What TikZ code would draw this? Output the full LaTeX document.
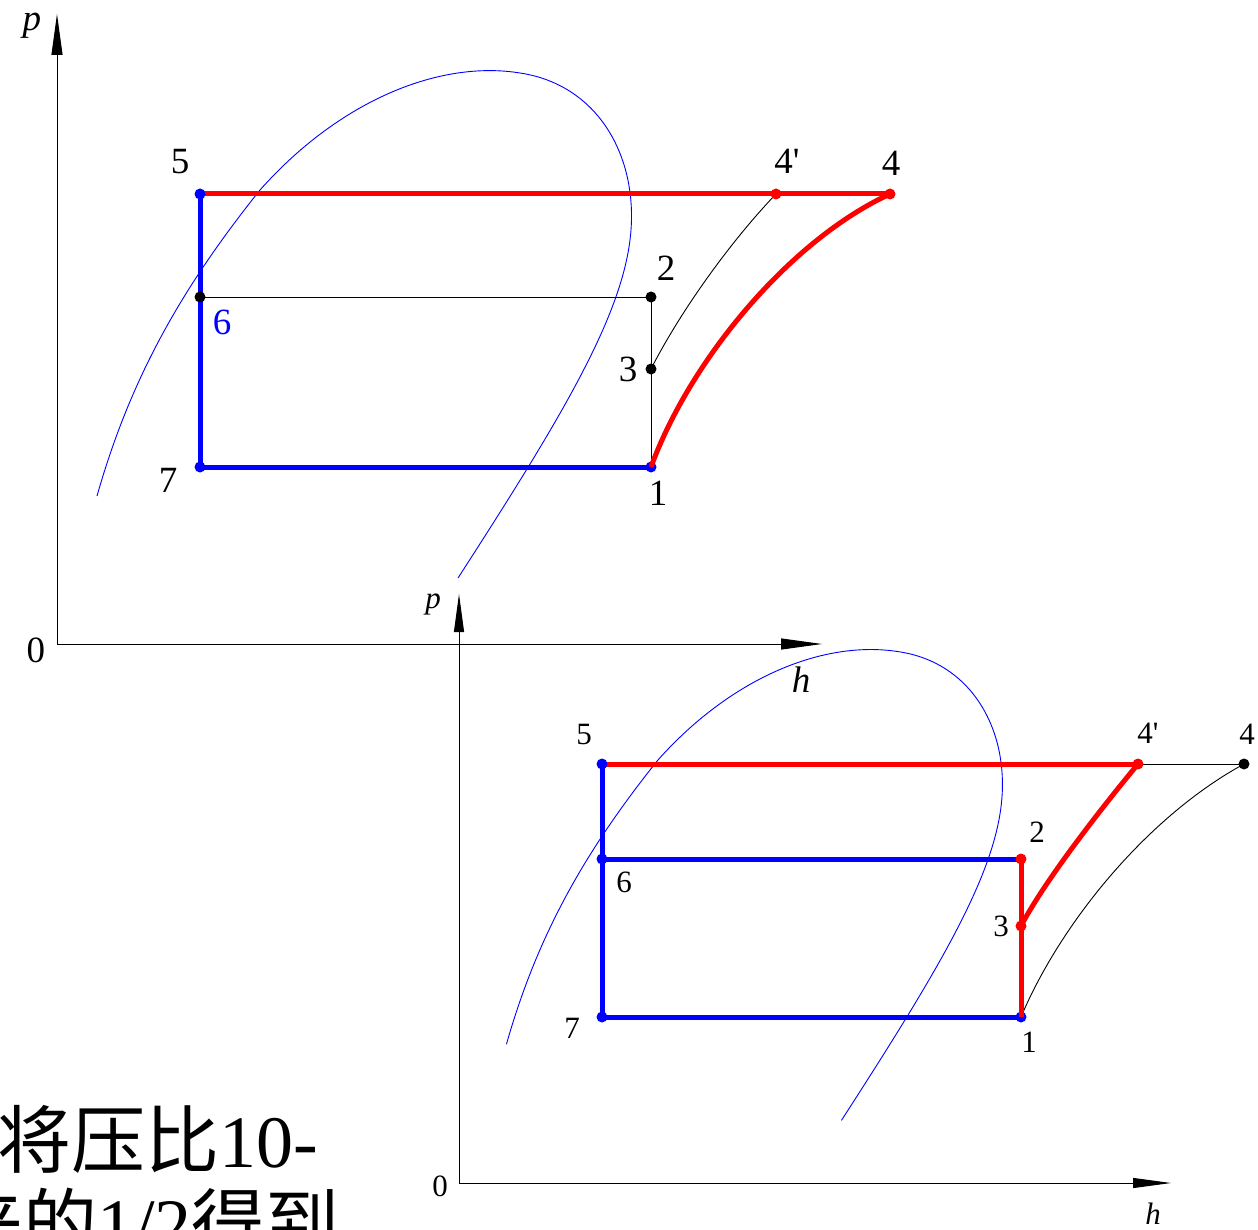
\documentclass[tikz,border=0pt]{standalone}
\usepackage{fontspec}
\setmainfont{Liberation Serif}
\newfontfamily\lab{Liberation Serif}
\newfontfamily\cjk{Noto Sans CJK SC}
\usetikzlibrary{arrows.meta}
\tikzset{
  thickred/.style={draw=red, line width=5pt},
  thickblue/.style={draw=blue, line width=5pt},
  thinline/.style={draw=black, line width=0.9pt},
  domeline/.style={draw=blue, line width=0.9pt},
  axisA/.style={draw=black, line width=1pt, -{Triangle[length=41pt,width=11pt]}},
  axisB/.style={draw=black, line width=1pt, -{Triangle[length=38pt,width=10pt]}},
  lblA/.style={font=\lab\fontsize{37}{40}\selectfont, inner sep=0pt},
  lblB/.style={font=\lab\fontsize{31}{34}\selectfont, inner sep=0pt},
  bigtext/.style={font=\lab\fontsize{74}{83}\selectfont, inner sep=0pt, anchor=base west},
}
\newcommand{\domepath}{(97,496) .. controls (130,380) and (180,290) .. (260,190)
  .. controls (340,100) and (440,60) .. (520,73)
  .. controls (600,85) and (640,160) .. (630,240)
  .. controls (620,320) and (560,420) .. (458,578)}
\begin{document}
\begin{tikzpicture}[x=1pt,y=-1pt]
\useasboundingbox (0,0) rectangle (1258,1230);

% ---------------- top diagram ----------------
\coordinate (O1) at (57,644);
\coordinate (Y1) at (57,14);
\coordinate (X1) at (822,644);
\draw[axisA] (O1) -- (Y1);
\draw[axisA] (O1) -- (X1);
\node[lblA, font=\lab\itshape\fontsize{37}{40}\selectfont] (p1) at (32,26) {p};
\node[lblA, font=\lab\itshape\fontsize{37}{40}\selectfont] (h1) at (801,680) {h};
\node[lblA] (z1) at (36,650) {0};

\draw[domeline] \domepath;

\coordinate (a5) at (200,194);
\coordinate (a4p) at (776,194);
\coordinate (a4) at (890,194);
\coordinate (a6) at (200,297);
\coordinate (a2) at (651,297);
\coordinate (a3) at (651,369);
\coordinate (a1) at (651,467);
\coordinate (a7) at (200,467);

\draw[thinline] (a6) -- (a2);
\draw[thinline] (a2) -- (a1);
\draw[thinline] (a3) .. controls (680,312) and (730,242) .. (a4p);
\draw[thickred] (a5) -- (a4);
\draw[thickblue] (a5) -- (a7) -- (a1);
\fill[blue] (a5) circle (5.5pt);
\fill[blue] (a7) circle (5.5pt);
\fill[blue] (a1) circle (5.5pt);
\draw[thickred] (a1) .. controls (690,360) and (790,240) .. (a4);
\fill[red] (a4p) circle (5.5pt);
\fill[red] (a4) circle (5.5pt);
\fill[black] (a6) circle (5.5pt);
\fill[black] (a2) circle (5.5pt);
\fill[black] (a3) circle (5.5pt);

\node[lblA] (l5) at (180,162) {5};
\node[lblA] (l4p) at (787,161) {4'};
\node[lblA] (l4) at (891,163) {4};
\node[lblA] (l2) at (666,268) {2};
\node[lblA, text=blue] (l6) at (222,322) {6};
\node[lblA] (l3) at (628,369) {3};
\node[lblA] (l1) at (658,493) {1};
\node[lblA] (l7) at (168,480) {7};

% ---------------- bottom diagram ----------------
\coordinate (O2) at (459,1183);
\coordinate (Y2) at (459,594);
\coordinate (X2) at (1171,1183);
\draw[axisB] (O2) -- (Y2);
\draw[axisB] (O2) -- (X2);
\node[lblB, font=\lab\itshape\fontsize{31}{34}\selectfont] (p2) at (433,604) {p};
\node[lblB, font=\lab\itshape\fontsize{31}{34}\selectfont] (h2) at (1153,1214) {h};
\node[lblB] (z2) at (440,1186) {0};

\begin{scope}[shift={(416.4,584.0)}, scale=0.928]
\draw[domeline] \domepath;
\end{scope}

\coordinate (b5) at (602,764);
\coordinate (b4p) at (1138,764);
\coordinate (b4) at (1244,764);
\coordinate (b6) at (602,859);
\coordinate (b2) at (1021,859);
\coordinate (b3) at (1021,926);
\coordinate (b1) at (1021,1017);
\coordinate (b7) at (602,1017);

\draw[thinline] (b4p) -- (b4);
\draw[thinline] (b1) .. controls (1062,920) and (1150,815) .. (b4);
\draw[thickred] (b5) -- (b4p);
\draw[thickblue] (b5) -- (b7) -- (b1);
\draw[thickblue] (b6) -- (b2);
\fill[blue] (b1) circle (5.5pt);
\draw[thickred] (b1) -- (b2);
\draw[thickred] (b3) .. controls (1042,886) and (1090,822) .. (b4p);
\fill[blue] (b5) circle (5.5pt);
\fill[blue] (b6) circle (5.5pt);
\fill[blue] (b7) circle (5.5pt);
\fill[red] (b2) circle (5.5pt);
\fill[red] (b3) circle (5.5pt);
\fill[red] (b4p) circle (5.5pt);
\fill[black] (b4) circle (5.5pt);

\node[lblB] (m5) at (584,734) {5};
\node[lblB] (m4p) at (1148,733) {4'};
\node[lblB] (m4) at (1247,734) {4};
\node[lblB] (m2) at (1037,832) {2};
\node[lblB] (m6) at (624,882) {6};
\node[lblB] (m3) at (1001,926) {3};
\node[lblB] (m1) at (1029,1042) {1};
\node[lblB] (m7) at (572,1028) {7};

% ---------------- clipped caption ----------------
\node[bigtext] (t1) at (-3,1167) {{\cjk 将压比}10-};
\node[bigtext] (t2) at (-51,1250) {{\cjk 来的}1/2{\cjk 得到}};
\end{tikzpicture}
\end{document}
